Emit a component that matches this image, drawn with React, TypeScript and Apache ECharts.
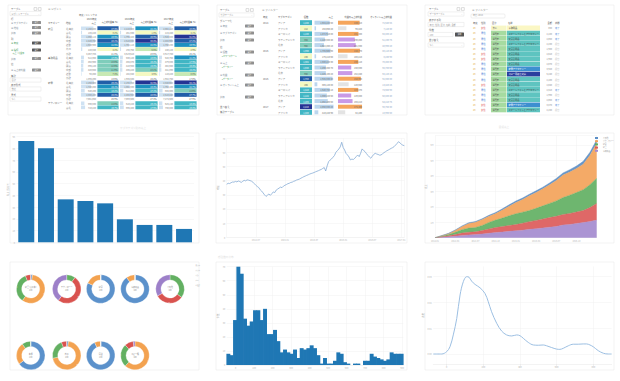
import React, { useEffect, useRef } from 'react';
import * as echarts from 'echarts';

const FONT = '"Noto Sans CJK JP", "Noto Sans", sans-serif';
const SCALE = ['#ffffff', '#f4f9c2', '#c7e9b4', '#7fcdbb', '#41b6c4', '#1d91c0', '#225ea8', '#253494'];

// ---------- Panel 1: pivot table ----------
const p1Categories = ['家具', '', '', '', '', '', '', '事務用品', '', '', '', '', '', '家電', '', '', '', '', 'テクノロジー', ''];
const p1Regions = ['北海道', '東北', '関東', '中部', '近畿', '九州', '小計', '北海道', '東北', '関東', '中部', '近畿', '小計', '北海道', '東北', '関東', '中部', '小計', '北海道', '東北'];
const p1Years = ['2015年度', '2016年度', '2017年度'];
const p1Sales2015 = [2150430, 185220, 1860115, 2420780, 1630900, 220340, 8467785, 512360, 468900, 395120, 420660, 98450, 1895490, 2260300, 1720450, 640200, 2380100, 7001050, 590330, 710220];
const p1Sales2016 = [2210560, 201330, 1795420, 2510330, 1702110, 198760, 8619610, 530120, 455870, 410980, 436220, 102340, 1935530, 2198740, 1802330, 612450, 2455980, 7069500, 610220, 695480];
const p1Sales2017 = [2302110, 215440, 1920880, 2488900, 1750230, 240120, 8917780, 548760, 479330, 402550, 441890, 110220, 1982750, 2340660, 1768100, 655300, 2510440, 7274500, 625140, 730880];
const p1Rate2015 = [27.4, 3.2, 23.5, 28.1, 21.6, 4.2, 21.8, 17.3, 13.8, 12.5, 11.9, 7.4, 13.6, 29.2, 24.1, 18.2, 26.8, 25.9, 14.3, 16.7];
const p1Rate2016 = [22.1, 1.8, 26.9, 33.4, 22.8, 6.5, 23.6, 18.6, 16.2, 15.8, 13.1, 4.6, 15.2, 32.5, 23.3, 17.1, 28.5, 27.4, 19.1, 17.5];
const p1Rate2017 = [28.3, 4.1, 31.8, 27.2, 23.9, 2.9, 25.1, 21.2, 17.9, 16.4, 15.2, 8.8, 17.0, 34.1, 22.7, 14.6, 27.7, 27.9, 18.4, 19.2];

// ---------- Panel 2: summary table ----------
const p2Years = ['2014', '2015', '2016', '2017'];
const p2Regions = ['アジア', 'アフリカ', 'ヨーロッパ', 'ラテンアメリカ', '北米'];
const p2Counts = [1245, 212, 1180, 864, 902, 1390, 238, 1302, 1046, 958, 1788, 265, 1410, 1122, 1205, 2210, 1480];
const p2Sales = [1634220.5, 168050.2, 1472910.8, 1120380.4, 1022450.1, 1735600.9, 175210.6, 1530220.3, 1230450.7, 1225100.2, 1945330.4, 305120.8, 1640780.1, 1330220.5, 1432100.6, 2050330.2, 410220.9];
const p2Profit = [245310, 95420, 231880, 190450, 201330, 248770, 108210, 230110, 150330, 162440, 258990, 120550, 229870, 149880, 165210, 272400, 82100];
const p2Online = [72540.55, 7120.3, 65880.1, 51230.75, 48990.2, 80110.45, 8230.9, 70450.35, 56780.6, 55120.15, 92330.8, 13420.25, 74560.9, 60880.4, 64210.75, 98760.3, 18990.5];
const p2ProfitColors = ['#f5a55b', '#e3e3e3', '#f5a55b', '#c99ae6', '#c99ae6'];

// ---------- Panel 3: data table ----------
const p3Year = ['23', '23', '23', '23', '23', '23', '23', '23', '23', '23', '23', '23', '23', '23', '23', '23', '23'];
const p3Gender = ['女性', '男性', '男性', '男性', '男性', '女性', '女性', '男性', '男性', '男性', '男性', '女性', '男性', '男性', '男性', '女性', '女性'];
const p3Segment = ['法人', '消費者', '消費者', '消費者', '消費者', '消費者', '消費者', '消費者', '消費者', '消費者', '消費者', '消費者', '消費者', '消費者', '消費者', '消費者', '消費者'];
const p3Names = ['事務用品', 'スマートフォンとアクセサリー', '文房具用品', 'スマートフォンとアクセサリー', '文房具用品', '文房具用品', '文房具用品', '文房具用品', '家電アクセサリー', 'コピー用紙と封筒', '文房具用品', '文房具用品', 'スマートフォンとアクセサリー', '文房具用品', '文房具用品', '家電アクセサリー', 'スマートフォンとアクセサリー'];
const p3Amount = [850, 2180, 2050, 2230, 1980, 2010, 1950, 2070, 3920, 5240, 2100, 2040, 2310, 1990, 2060, 3870, 2150];
const p3Status = ['完了', '完了', '完了', '保留', '保留', '保留', '保留', '保留', '保留', '保留', '保留', '保留', '完了', '保留', '完了', '完了', '保留'];

// ---------- Panel 4: bar chart ----------
const p4Categories = ['電話', '椅子', 'コピー機', '本棚', 'テーブル', '収納', 'アクセサリー', '家電', 'バインダー'];
const p4Values = [86.4, 80.1, 36.6, 35.2, 33.2, 19.6, 14.8, 14.8, 11.4];

// ---------- Panel 5: line chart ----------
const p5XLabels = ['2014-07', '2015-01', '2015-07', '2016-01', '2016-07', '2017-01'];
const p5Values = [
  37.5, 38.2, 38.0, 38.6, 39.1, 39.0, 39.5, 39.2, 39.8, 39.4,
  38.8, 39.6, 40.3, 39.9, 40.6, 40.4, 40.1, 39.7, 39.0, 37.9,
  36.8, 35.9, 35.2, 33.6, 32.7, 31.4, 30.0, 28.9, 29.8, 30.6,
  29.7, 30.8, 32.1, 31.6, 33.4, 34.1, 34.8, 35.5, 35.1, 36.2,
  36.8, 37.3, 37.9, 38.2, 38.8, 39.0, 39.6, 39.9, 40.5, 40.8,
  41.2, 41.8, 42.3, 42.9, 43.3, 43.8, 44.2, 44.7, 45.1, 45.4,
  45.8, 46.3, 46.7, 47.1, 47.6, 48.0, 48.7, 49.3, 46.9, 50.5,
  53.5, 54.6, 55.4, 56.6, 57.8, 60.1, 61.2, 62.4, 63.9, 67.2,
  63.5, 61.7, 59.3, 58.2, 56.8, 54.7, 55.3, 55.0, 55.9, 57.1,
  58.2, 57.0, 59.4, 62.5, 61.4, 60.6, 59.2, 57.9, 56.8, 55.9,
  57.3, 58.6, 59.4, 58.9, 58.6, 58.1, 58.2, 59.0, 59.8, 60.5,
  61.2, 61.7, 62.3, 62.9, 63.4, 64.1, 65.2, 66.3, 67.6, 66.8,
  65.8, 65.1, 64.8,
];

// ---------- Panel 6: stacked area ----------
const p6XLabels = ['2014-01', '2014-04', '2014-07', '2014-10', '2015-01', '2015-04', '2015-07', '2015-10'];
const p6Periods = ['2014-01', '2014-02', '2014-03', '2014-04', '2014-05', '2014-06', '2014-07', '2014-08', '2014-09', '2014-10', '2014-11', '2014-12', '2015-01', '2015-02', '2015-03', '2015-04', '2015-05', '2015-06', '2015-07', '2015-08', '2015-09', '2015-10', '2015-11', '2015-12', '2016-01'];
const p6Purple = [0, 0.03, 0.06, 0.10, 0.15, 0.18, 0.20, 0.24, 0.29, 0.33, 0.37, 0.41, 0.45, 0.49, 0.54, 0.58, 0.63, 0.68, 0.73, 0.82, 0.86, 0.92, 0.98, 1.05, 1.14];
const p6Red = [0, 0.03, 0.06, 0.10, 0.15, 0.17, 0.18, 0.22, 0.28, 0.33, 0.35, 0.38, 0.40, 0.45, 0.50, 0.54, 0.58, 0.62, 0.65, 0.68, 0.71, 0.74, 0.78, 0.90, 1.08];
const p6Green = [0, 0.04, 0.08, 0.15, 0.22, 0.27, 0.28, 0.33, 0.42, 0.48, 0.55, 0.63, 0.70, 0.71, 0.72, 0.78, 0.85, 0.92, 1.0, 1.1, 1.18, 1.26, 1.35, 1.48, 1.62];
const p6Orange = [0, 0.03, 0.06, 0.12, 0.20, 0.30, 0.34, 0.38, 0.40, 0.42, 0.52, 0.62, 0.72, 0.82, 0.95, 1.02, 1.1, 1.2, 1.32, 1.45, 1.5, 1.56, 1.65, 1.9, 2.27];
const p6Blue = [0, 0.01, 0.02, 0.03, 0.04, 0.05, 0.05, 0.06, 0.06, 0.07, 0.08, 0.09, 0.10, 0.10, 0.10, 0.11, 0.11, 0.12, 0.13, 0.14, 0.15, 0.16, 0.18, 0.20, 0.22];
const p6Names = ['その他', 'テクノロジー', '家電', '家具', '事務用品'];

// ---------- Panel 7: donuts ----------
const p7Legend = ['東日本', '西日本', '中部', '九州', '北海道'];
const p7Colors = ['#5b91cb', '#f3a250', '#63b062', '#d9534f', '#9d80c9'];
const p7Names = ['家具 (東日本)', 'テクノロジー', '家電', '事務用品', 'その他', '本棚', '椅子', '電話', 'コピー機'];
const p7Values = [
  [2, 58, 34, 6, 0],
  [0, 0, 10, 50, 40],
  [82, 18, 0, 0, 0],
  [90, 10, 0, 0, 0],
  [0, 0, 35, 32, 33],
  [65, 25, 10, 0, 0],
  [2, 70, 22, 6, 0],
  [93, 7, 0, 0, 0],
  [0, 62, 26, 10, 2],
];

// ---------- Panel 8: histogram ----------
const p8XTicks = [0, 100, 200, 300, 400, 500, 600, 700, 800, 900];
const p8BinStart = -48;
const p8BinWidth = 18;
const p8Counts = [8, 7, 32, 70, 65, 33, 28, 31, 39, 39, 32, 40, 22, 22, 25, 17, 9, 11, 9, 8, 11, 5, 12, 11, 12, 14, 12, 7, 1, 5, 1, 1, 3, 9, 8, 2, 1, 0, 1, 1, 0, 3, 3, 8, 6, 5, 4, 3, 4, 9, 8, 8, 8];

// ---------- Panel 9: density ----------
const p9XTicks = [0, 200, 400, 600, 800];
const p9YTicks = [0, 0.01, 0.02, 0.03];
const p9X = [-73, -27, 0, 18, 36, 55, 73, 91, 109, 122, 136, 155, 182, 209, 227, 245, 273, 300, 327, 355, 382, 400, 418, 445, 473, 500, 527, 545, 573, 600, 618, 636, 664, 691, 718, 745, 764, 782, 800, 827, 855, 882, 900];
const p9Y = [0, 0, 0.0009, 0.0028, 0.0074, 0.0138, 0.0229, 0.0281, 0.03, 0.0298, 0.0283, 0.027, 0.0257, 0.0235, 0.0203, 0.0164, 0.0119, 0.0089, 0.0074, 0.007, 0.0074, 0.0071, 0.0061, 0.0045, 0.0035, 0.0034, 0.0035, 0.0032, 0.0025, 0.0019, 0.0018, 0.0022, 0.0032, 0.0038, 0.0038, 0.0039, 0.0039, 0.0035, 0.0028, 0.0013, 0.0003, 0, 0];

const fmt = (v: number) => Math.round(v).toLocaleString('en-US');
const fmt2 = (v: number) => v.toLocaleString('en-US', { minimumFractionDigits: 2, maximumFractionDigits: 2 });
const rateLevel = (r: number) => (r < 5 ? 1 : r < 10 ? 2 : r < 15 ? 3 : r < 20 ? 4 : r < 25 ? 5 : r < 30 ? 6 : 7);
const countLevel = (c: number) => (c < 400 ? 1 : c < 800 ? 2 : c < 1000 ? 3 : c < 1500 ? 4 : c < 1750 ? 5 : c < 2000 ? 6 : 7);
const P3COLORS = ['#fbf7c4', '#5ec4c0', '#3d8fd0', '#2b3e9e'];
const amountLevel = (a: number) => (a < 1000 ? 0 : a < 3000 ? 1 : a < 4500 ? 2 : 3);

function buildOption(): any {
  const g: any[] = [];
  const T = (x: number, y: number, text: string, o: any = {}) => {
    g.push({
      type: 'text', x, y, silent: true, z: o.z ?? 10,
      style: {
        text, fill: o.fill ?? '#8a8a8a',
        font: `${o.bold ? 'bold ' : ''}${o.size ?? 2.5}px ${FONT}`,
        textAlign: o.align ?? 'left', textVerticalAlign: 'middle',
      },
    });
  };
  const R = (x: number, y: number, w: number, h: number, fill: string, stroke: string | null = null, z = 5, r = 0) => {
    g.push({
      type: 'rect', silent: true, z,
      shape: { x, y, width: w, height: h, r },
      style: { fill, stroke: stroke ?? undefined, lineWidth: stroke ? 0.5 : 0 },
    });
  };

  // frames
  const frames = [[8, 5, 191, 110], [217, 5, 190, 110], [425, 5, 189, 110], [10, 133, 189, 110], [216, 133, 191, 110], [425, 133, 189, 110], [10, 262, 189, 108], [216, 262, 191, 108], [425, 262, 189, 108]];
  frames.forEach(([x, y, w, h]) => R(x, y, w, h, 'none', '#e6e6e6', 0));

  const sidebar = (x0: number, w: number, items: any[]) => {
    items.forEach(([kind, y, text, dark]) => {
      if (kind === 'label') T(x0, y, text, { size: 2.4, fill: '#666' });
      else if (kind === 'input' || kind === 'select') {
        R(x0 - 1, y - 2.1, w, 4.2, 'none', '#e0e0e0');
        T(x0 + 0.5, y, text, { size: 2.2, fill: '#999' });
        if (kind === 'select') T(x0 + w - 2.5, y, '⌄', { size: 2.2, fill: '#999', align: 'right' });
      } else if (kind === 'inputBtn') {
        R(x0 - 1, y - 2.1, w - 11, 4.2, 'none', '#e0e0e0');
        T(x0 + 0.5, y, text, { size: 2.2, fill: '#999' });
        R(x0 + w - 10, y - 2, 9, 4, '#555555', null, 5, 0.5);
        T(x0 + w - 5.5, y, '適用', { size: 1.8, fill: '#fff', align: 'center' });
      } else if (kind === 'field') {
        T(x0, y, text, { size: 2.3, fill: dark ? '#3f9a5a' : '#7a8a96' });
        R(x0 + w - 10, y - 1.6, 9, 3.2, dark ? '#5a5a5a' : '#909090', null, 5, 0.5);
        T(x0 + w - 5.5, y, '編集', { size: 1.8, fill: '#eee', align: 'center' });
      } else if (kind === 'sub') T(x0 + 1.5, y, text, { size: 2, fill: '#55a867' });
    });
  };

  // ---------- Panel 1 ----------
  sidebar(11, 31, [
    ['label', 9, 'テーブル'], ['select', 13.5, 'ピボットテーブル'], ['label', 18.5, '行'],
    ['field', 22.5, '≡ サブカテゴリ'], ['field', 27.5, '≡ 地域'], ['field', 33, '追加'],
    ['label', 38.5, '列'], ['field', 43, '≡ 年度', true], ['field', 50, '≡ 指標', true],
    ['sub', 53.5, '売上 / 利益率'], ['field', 58.5, '追加'], ['label', 63.5, '値'],
    ['field', 70, '≡ 売上総利益'], ['label', 76, '集計'], ['input', 80, '合計'],
    ['label', 85, '表示形式'], ['input', 89, '数値'], ['label', 95, '書式'], ['input', 99, 'なし'],
  ]);
  R(34, 7.6, 2.8, 2.8, 'none', '#bbb'); R(38.3, 7.6, 2.8, 2.8, 'none', '#bbb');
  T(48, 9, '≡ ピボット', { size: 2.6, fill: '#999' });
  T(97, 15, '年度 / メトリクス', { size: 2.3, fill: '#666', align: 'right' });
  const p1Cols = [[80, 97, 97, 119], [119, 135, 135, 158], [158, 174, 174, 197]];
  const p1Sales = [p1Sales2015, p1Sales2016, p1Sales2017];
  const p1Rates = [p1Rate2015, p1Rate2016, p1Rate2017];
  p1Cols.forEach(([a0, a1, b0, b1], k) => {
    T(a1 - 0.5, 18.5, p1Years[k], { size: 2.3, fill: '#555', align: 'right' });
    T(a1 - 1, 22.7, '売上', { size: 2.3, fill: '#555', align: 'right' });
    T(b1 - 1, 22.7, '売上総利益率 (%)', { size: 2.1, fill: '#555', align: 'right' });
  });
  T(48, 22.7, 'カテゴリー', { size: 2.3, fill: '#555' });
  T(66, 22.7, '地域', { size: 2.3, fill: '#555' });
  const maxSale = 2600000;
  p1Regions.forEach((reg, i) => {
    const y = 28.3 + i * 4.16;
    const sub = reg === '小計';
    if (p1Categories[i]) T(48, y, p1Categories[i], { size: 2.4, fill: '#666' });
    T(66, y, reg, { size: 2.4, fill: sub ? '#555' : '#888' });
    p1Cols.forEach(([a0, a1, b0, b1], k) => {
      const s = p1Sales[k][i];
      const r = p1Rates[k][i];
      if (!sub) R(a0 + 1, y - 1.8, (a1 - a0 - 2) * Math.min(1, s / maxSale), 3.6, '#cfe2f3');
      T(a1 - 1, y, fmt(s), { size: 2.2, fill: '#777', align: 'right' });
      const lv = sub ? 0 : rateLevel(r);
      if (!sub) R(b0 + 0.4, y - 1.95, b1 - b0 - 0.8, 3.9, SCALE[lv]);
      T(b1 - 1.5, y, r.toFixed(1) + '%', { size: 2.2, fill: lv >= 4 ? '#ffffff' : '#555', align: 'right' });
    });
  });

  // ---------- Panel 2 ----------
  sidebar(220, 35, [
    ['label', 10, 'テーブル'], ['select', 15, '集計テーブル'], ['label', 21, 'グループ化'],
    ['field', 26, '≡ 年度'], ['field', 33, '≡ サブカテゴリ'], ['field', 40, '追加'],
    ['label', 47, '値'], ['field', 52, '≡ 個数'], ['sub', 56, '▸ カラースケール'],
    ['field', 63, '≡ 売上'], ['sub', 67, '▸ データバー'], ['field', 75, '≡ 利益'], ['sub', 79, '▸ データバー'],
    ['field', 85, '≡ オンライン売上'], ['field', 97, '追加'], ['label', 107, '並べ替え'], ['label', 112, '集計テーブル'],
  ]);
  R(246, 8.6, 2.8, 2.8, 'none', '#bbb'); R(250.5, 8.6, 2.8, 2.8, 'none', '#bbb');
  T(262, 10, '≡ フィルター', { size: 2.6, fill: '#999' });
  T(263, 16.5, '年度', { size: 2.3, fill: '#555' });
  T(278, 16.5, 'サブカテゴリ', { size: 2.3, fill: '#555' });
  T(306, 16.5, '個数', { size: 2.3, fill: '#555', align: 'center' });
  T(333, 16.5, '売上', { size: 2.3, fill: '#555', align: 'right' });
  T(362, 16.5, '利益の売上総利益', { size: 2.2, fill: '#555', align: 'right' });
  T(392, 16.5, 'オンライン売上総利益', { size: 2.2, fill: '#555', align: 'right' });
  const maxS2 = Math.max(...p2Sales);
  const maxP2 = Math.max(...p2Profit);
  p2Counts.forEach((c, i) => {
    const y = 22.7 + i * 5.6;
    if (i % 5 === 0) T(263, y, p2Years[i / 5], { size: 2.4, fill: '#666' });
    T(278, y, p2Regions[i % 5], { size: 2.4, fill: '#888' });
    const lv = countLevel(c);
    R(300, y - 2.5, 12, 5, SCALE[lv]);
    T(306, y, fmt(c), { size: 2.2, fill: lv >= 4 ? '#fff' : '#555', align: 'center' });
    R(314.5, y - 2, 19 * p2Sales[i] / maxS2, 4, '#bcd6ee');
    T(333, y, fmt2(p2Sales[i]), { size: 2.2, fill: '#666', align: 'right' });
    R(338, y - 2, 24 * p2Profit[i] / maxP2, 4, p2ProfitColors[i % 5]);
    T(362, y, fmt(p2Profit[i]), { size: 2.2, fill: '#666', align: 'right' });
    T(392, y, fmt2(p2Online[i]), { size: 2.2, fill: '#8aa2bd', align: 'right' });
  });

  // ---------- Panel 3 ----------
  sidebar(429, 36, [
    ['label', 9, 'テーブル'], ['select', 14, 'データテーブル'], ['label', 20, '表示する列'],
    ['input', 24.5, '年度, 性別, 区分, 名前, 金額'], ['label', 30, '件数'], ['inputBtn', 34.5, '100'],
    ['label', 40, '並び替え'], ['select', 45, 'なし'],
  ]);
  R(457, 7.6, 2.8, 2.8, 'none', '#bbb'); R(461.5, 7.6, 2.8, 2.8, 'none', '#bbb');
  T(472, 10, '≡ フィルター', { size: 2.6, fill: '#999' });
  R(471, 14, 34, 4, 'none', '#dddddd', 5, 1);
  T(473, 16, '年度: 2023', { size: 2.1, fill: '#999' });
  T(473, 23, '年度', { size: 2.3, fill: '#555' });
  T(481, 23, '性別', { size: 2.3, fill: '#555' });
  T(492, 23, '区分', { size: 2.3, fill: '#555' });
  T(508, 23, '名前', { size: 2.3, fill: '#555' });
  T(552, 23, '金額', { size: 2.3, fill: '#555', align: 'right' });
  T(555, 23, '状態', { size: 2.3, fill: '#555' });
  p3Names.forEach((nm, i) => {
    const y = 28 + i * 5.12;
    T(473, y, p3Year[i], { size: 2.3, fill: '#e0a030' });
    T(481, y, p3Gender[i], { size: 2.3, fill: p3Gender[i] === '女性' ? '#e05a5a' : '#4a7fd6' });
    R(491, y - 2.4, 15.5, 4.8, i === 0 ? '#f7f6c6' : '#a6dba0');
    T(492.5, y, p3Segment[i], { size: 2.2, fill: '#555' });
    const lv = amountLevel(p3Amount[i]);
    R(507, y - 2.4, 33, 4.8, P3COLORS[lv]);
    T(508.5, y, nm, { size: 2.2, fill: lv >= 2 ? '#fff' : '#444' });
    T(552, y, fmt(p3Amount[i]), { size: 2.2, fill: '#888', align: 'right' });
    T(555, y, p3Status[i], { size: 2.2, fill: p3Status[i] === '完了' ? '#4a7fd6' : '#bbbbbb' });
  });

  // faint titles
  T(133, 127.5, 'サブカテゴリ別の売上', { size: 2.6, fill: '#e0e0e0', align: 'center' });
  T(504, 127, '累積売上', { size: 2.6, fill: '#e0e0e0', align: 'center' });
  T(218, 257, '受注数の分布', { size: 2.6, fill: '#e0e0e0' });

  // donut centre labels
  const p7Centers = [[30.7, 289], [66.7, 289], [100.7, 289], [135, 289], [170, 289], [30.7, 355.5], [66.7, 355.5], [100.7, 355.5], [135, 355.5]];
  p7Names.forEach((nm, k) => {
    const [cx, cy] = p7Centers[k];
    T(cx, cy - 1.3, nm, { size: 1.9, fill: '#888', align: 'center' });
    T(cx, cy + 1.5, String(p7Values[k].reduce((a, b) => a + b, 0)), { size: 1.9, fill: '#888', align: 'center' });
  });

  const lbl = { fontSize: 2.2, color: '#b3b3b3', fontFamily: FONT, margin: 1.5 };
  const split = { show: true, lineStyle: { color: '#f0f0f0', width: 0.5 } };
  const nameStyle = { fontSize: 2.3, color: '#aaa', fontFamily: FONT };
  const noLine = { show: false };
  const xLine = { onZero: false, lineStyle: { color: '#eeeeee', width: 0.5 } };

  const p6Defs = [
    { name: '事務用品', data: p6Purple, color: '#a48bcf' },
    { name: '家具', data: p6Red, color: '#dc5b5a' },
    { name: '家電', data: p6Green, color: '#62b063' },
    { name: 'テクノロジー', data: p6Orange, color: '#f3a35a' },
    { name: 'その他', data: p6Blue, color: '#5b8ec6' },
  ];

  const series: any[] = [
    {
      type: 'bar', name: '売上', xAxisIndex: 0, yAxisIndex: 0, data: p4Values,
      barCategoryGap: '19%', itemStyle: { color: '#1f77b4' },
    },
    {
      type: 'line', name: '終値', xAxisIndex: 1, yAxisIndex: 1, showSymbol: false,
      data: p5Values.map((v, i) => [i, v]), lineStyle: { color: '#86acd5', width: 0.8 }, itemStyle: { color: '#86acd5' },
    },
    ...p6Defs.map((d) => ({
      type: 'line', name: d.name, xAxisIndex: 2, yAxisIndex: 2, stack: 'p6', showSymbol: false,
      data: d.data,
      lineStyle: { width: 0.4, color: d.color }, itemStyle: { color: d.color }, areaStyle: { color: d.color, opacity: 0.92 },
    })),
    {
      type: 'custom', name: '件数', xAxisIndex: 3, yAxisIndex: 3,
      data: p8Counts.map((c, i) => [p8BinStart + i * p8BinWidth, p8BinStart + (i + 1) * p8BinWidth, c]),
      encode: { x: [0, 1], y: 2 },
      renderItem: (params: any, api: any) => {
        const a = api.coord([api.value(0), api.value(2)]);
        const b = api.coord([api.value(1), 0]);
        return {
          type: 'rect',
          shape: { x: a[0] - 0.3, y: a[1], width: b[0] - a[0] + 0.6, height: b[1] - a[1] },
          style: { fill: '#1f77b4', stroke: null, lineWidth: 0 },
        };
      },
    },
    {
      type: 'line', name: '密度', xAxisIndex: 4, yAxisIndex: 4, showSymbol: false, smooth: 0.35,
      data: p9X.map((x, i) => [x, p9Y[i]]), lineStyle: { color: '#9cbfe2', width: 1 }, itemStyle: { color: '#9cbfe2' },
    },
    ...p7Values.map((vals, k) => ({
      type: 'pie', name: p7Names[k], center: p7Centers[k], radius: [9, 14.3], startAngle: 90,
      data: p7Legend.map((n, j) => ({ name: n, value: vals[j], itemStyle: { color: p7Colors[j] } })),
      label: { show: true, position: 'inside', fontSize: 1.6, color: '#fff', formatter: (p: any) => (p.percent >= 15 ? `${p.value}` : '') },
      labelLine: { show: false }, itemStyle: { borderColor: '#fff', borderWidth: 0.3 }, silent: true,
    })),
  ];

  return {
    animation: false,
    backgroundColor: '#ffffff',
    textStyle: { fontFamily: FONT },
    graphic: { elements: g },
    legend: [
      {
        data: p6Names, left: 595, top: 137, orient: 'vertical', itemWidth: 3, itemHeight: 2, itemGap: 1.2, padding: 0,
        icon: 'rect', textStyle: { fontSize: 1.8, color: '#999', fontFamily: FONT },
      },
      {
        data: p7Legend, left: 187.5, top: 263.5, orient: 'vertical', itemWidth: 2, itemHeight: 2, itemGap: 0.8, padding: 0,
        icon: 'circle', textStyle: { fontSize: 1.5, color: '#aaa', fontFamily: FONT },
      },
    ],
    grid: [
      { left: 16.4, top: 136.7, width: 177.5, height: 105.6 },
      { left: 226.7, top: 138.3, width: 177.6, height: 99 },
      { left: 435, top: 135.7, width: 161.7, height: 102 },
      { left: 226.7, top: 266.7, width: 176.6, height: 98.3 },
      { left: 433.3, top: 266.4, width: 178.3, height: 97.9 },
    ],
    xAxis: [
      { type: 'category', gridIndex: 0, data: p4Categories, axisLabel: { show: false }, axisTick: { show: false }, axisLine: { show: false } },
      {
        type: 'value', gridIndex: 1, min: 0, max: 122, interval: 20,
        axisLabel: { ...lbl, showMinLabel: false, formatter: (v: number) => p5XLabels[v / 20 - 1] ?? '' },
        axisTick: { show: false }, axisLine: xLine, splitLine: split,
      },
      {
        type: 'category', gridIndex: 2, data: p6Periods, boundaryGap: false,
        axisLabel: { ...lbl, interval: 2, formatter: (v: string, idx: number) => p6XLabels[idx / 3] ?? '' },
        axisTick: { show: false }, axisLine: xLine, splitLine: { ...split, interval: 2 },
      },
      {
        type: 'value', gridIndex: 3, min: p8BinStart, max: p8BinStart + p8Counts.length * p8BinWidth,
        axisLabel: { ...lbl, customValues: p8XTicks }, axisTick: { show: false, customValues: p8XTicks },
        axisLine: xLine, splitLine: split,
      },
      {
        type: 'value', gridIndex: 4, min: -73, max: 900,
        axisLabel: { ...lbl, customValues: p9XTicks }, axisTick: { show: true, customValues: p9XTicks, length: 1.5, lineStyle: { color: '#ddd', width: 0.5 } },
        axisLine: { onZero: false, lineStyle: { color: '#e6e6e6', width: 0.5 } }, splitLine: split,
      },
    ],
    yAxis: [
      {
        type: 'value', gridIndex: 0, min: 0, max: 90, interval: 10, axisLabel: lbl, splitLine: split, axisLine: noLine, axisTick: noLine,
        name: '売上 (百万円)', nameLocation: 'middle', nameGap: 4.5, nameTextStyle: nameStyle,
      },
      {
        type: 'value', gridIndex: 1, min: 0, max: 70, interval: 10, axisLabel: lbl, splitLine: split, axisLine: noLine, axisTick: noLine,
        name: '終値', nameLocation: 'middle', nameGap: 4.5, nameTextStyle: nameStyle,
      },
      {
        type: 'value', gridIndex: 2, min: 0, max: 6.6, interval: 1, axisLine: noLine, axisTick: noLine,
        axisLabel: { ...lbl, showMaxLabel: false, showMinLabel: false, formatter: (v: number) => `${v}M` }, splitLine: split,
        name: '売上', nameLocation: 'middle', nameGap: 5, nameTextStyle: nameStyle,
      },
      {
        type: 'value', gridIndex: 3, min: 0, max: 70, interval: 10, axisLabel: lbl, splitLine: split, axisLine: noLine, axisTick: noLine,
        name: '件数', nameLocation: 'middle', nameGap: 4.5, nameTextStyle: nameStyle,
      },
      {
        type: 'value', gridIndex: 4, min: -0.004, max: 0.034, axisLine: noLine,
        axisLabel: { ...lbl, customValues: p9YTicks, formatter: (v: number) => v.toFixed(2) },
        axisTick: { show: false, customValues: p9YTicks }, splitLine: split,
        name: '密度', nameLocation: 'middle', nameGap: 6, nameTextStyle: nameStyle,
      },
    ],
    series,
  };
}

export default function App() {
  const ref = useRef<HTMLDivElement | null>(null);
  useEffect(() => {
    if (!ref.current) return;
    const chart = echarts.init(ref.current, undefined, { renderer: 'svg' });
    chart.setOption(buildOption());
    return () => chart.dispose();
  }, []);
  return <div ref={ref} style={{ position: 'fixed', left: 0, top: 0, width: 620, height: 381, background: '#ffffff' }} />;
}
